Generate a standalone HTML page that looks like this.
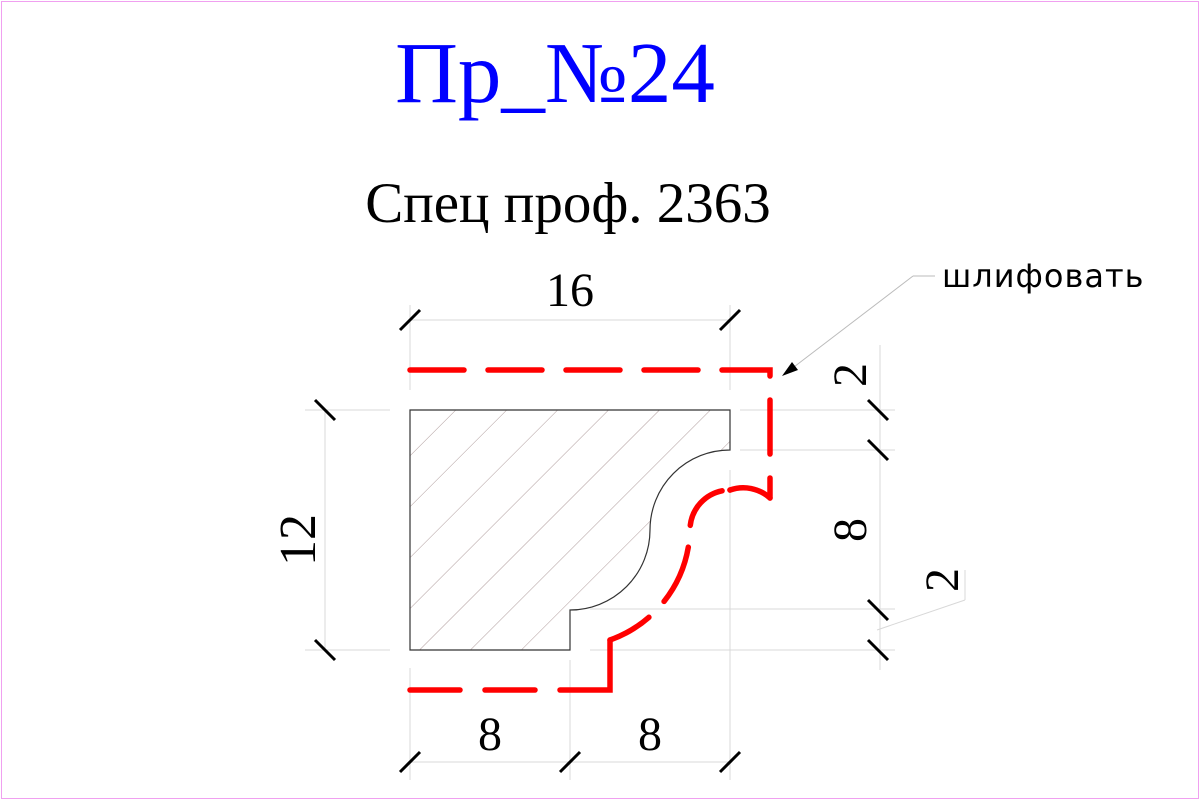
<!DOCTYPE html>
<html><head><meta charset="utf-8"><style>
html,body{margin:0;padding:0;background:#fff;width:1200px;height:800px;overflow:hidden}
svg text{font-family:"Liberation Serif",serif}
</style></head><body>
<svg width="1200" height="800" viewBox="0 0 1200 800">
<defs>
<pattern id="hatch" patternUnits="userSpaceOnUse" width="36" height="36" patternTransform="rotate(45)">
<line x1="0" y1="0" x2="0" y2="36" stroke="#b09c9c" stroke-width="1"/>
</pattern>
</defs>
<rect x="1.5" y="1.5" width="1197" height="797" fill="none" stroke="#f0a0f0" stroke-width="1"/>
<text x="555" y="102" font-size="87" fill="#0000ff" text-anchor="middle">Пр_№24</text>
<text x="568" y="222" font-size="57" fill="#000" text-anchor="middle">Спец проф. 2363</text>

<g stroke="#d8d8d8" stroke-width="1" fill="none">
<line x1="410" y1="320" x2="730" y2="320"/>
<line x1="410" y1="305" x2="410" y2="390"/>
<line x1="730" y1="305" x2="730" y2="390"/>
<line x1="325" y1="410" x2="325" y2="650"/>
<line x1="305" y1="410" x2="390" y2="410"/>
<line x1="305" y1="650" x2="390" y2="650"/>
<line x1="410" y1="762" x2="730" y2="762"/>
<line x1="410" y1="668" x2="410" y2="780"/>
<line x1="570" y1="660" x2="570" y2="780"/>
<line x1="730" y1="470" x2="730" y2="780"/>
<line x1="880" y1="345" x2="880" y2="670"/>
<line x1="740" y1="410" x2="895" y2="410"/>
<line x1="740" y1="450" x2="895" y2="450"/>
<line x1="590" y1="609" x2="895" y2="609"/>
<line x1="590" y1="650" x2="895" y2="650"/>
<line x1="877" y1="630" x2="965" y2="600"/>
<line x1="965" y1="600" x2="965" y2="570"/>
</g>
<g stroke="#000" stroke-width="3">
<line x1="400" y1="330" x2="420" y2="310"/>
<line x1="720" y1="330" x2="740" y2="310"/>
<line x1="315" y1="400" x2="335" y2="420"/>
<line x1="315" y1="640" x2="335" y2="660"/>
<line x1="400" y1="772" x2="420" y2="752"/>
<line x1="560" y1="772" x2="580" y2="752"/>
<line x1="720" y1="772" x2="740" y2="752"/>
<line x1="868" y1="400" x2="888" y2="420"/>
<line x1="868" y1="440" x2="888" y2="460"/>
<line x1="868" y1="600" x2="888" y2="620"/>
<line x1="868" y1="640" x2="888" y2="660"/>
</g>
<g font-size="48" fill="#000">
<text x="570" y="306" text-anchor="middle">16</text>
<text x="490" y="750" text-anchor="middle">8</text>
<text x="650" y="750" text-anchor="middle">8</text>
<text transform="translate(315,540) rotate(-90)" text-anchor="middle" font-size="52">12</text>
<text transform="translate(866,375) rotate(-90)" text-anchor="middle">2</text>
<text transform="translate(866,530) rotate(-90)" text-anchor="middle">8</text>
<text transform="translate(958,580) rotate(-90)" text-anchor="middle">2</text>
</g>

<path d="M410 410 H730 V450 A80 80 0 0 0 650 530 A80 80 0 0 1 570 610 V650 H410 Z" fill="url(#hatch)" stroke="#333" stroke-width="1.2"/>

<g fill="none" stroke="#ff0000" stroke-width="5.5" stroke-linecap="round" stroke-linejoin="miter">
<path d="M410 370 H770 V498" stroke-dasharray="54 24"/>
<path d="M770 498 A40 40 0 0 0 730 490"/>
<path d="M730 490 A40 40 0 0 0 690 530 A120 120 0 0 1 610 640" stroke-dasharray="0 8 50 22 60 22 60"/>
<path d="M410 690 H610 V640" stroke-dasharray="50 25 50 25 150"/>
</g>

<g>
<line x1="935" y1="276" x2="913" y2="276" stroke="#bbb" stroke-width="1"/>
<line x1="913" y1="276" x2="790" y2="370" stroke="#bbb" stroke-width="1"/>
<polygon points="782,376 792,362 798,370" fill="#000"/>
<text x="942" y="287" font-size="32" fill="#000" style="font-family:'DejaVu Sans',sans-serif;letter-spacing:1px">шлифовать</text>
</g>
</svg>
</body></html>
